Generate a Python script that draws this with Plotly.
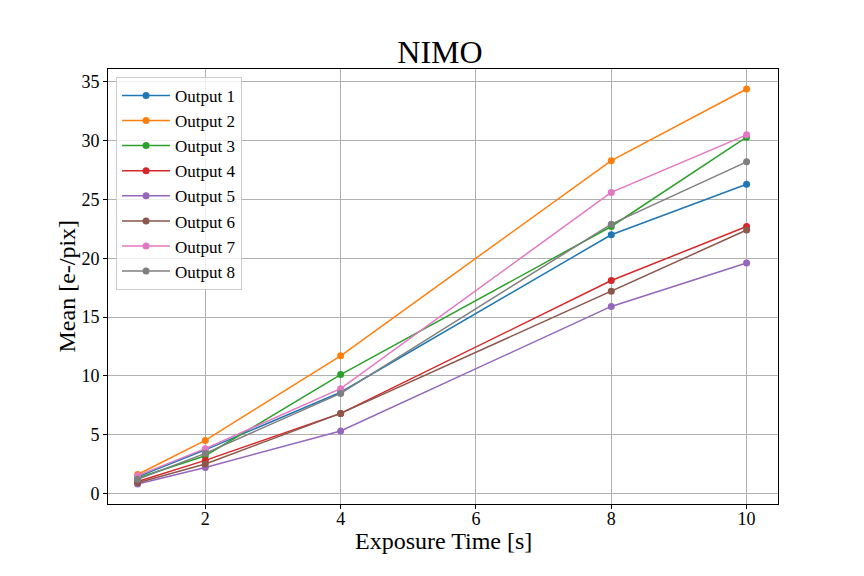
import plotly.graph_objects as go

# Datos
exposure = [1, 2, 4, 8, 10]
out1 = [1.4, 3.7, 8.6, 22.0, 26.3]
out2 = [1.6, 4.5, 11.7, 28.3, 34.4]
out3 = [1.3, 3.2, 10.1, 22.7, 30.3]
out4 = [1.0, 2.8, 6.8, 18.1, 22.7]
out5 = [0.8, 2.2, 5.3, 15.9, 19.6]
out6 = [0.9, 2.5, 6.8, 17.2, 22.4]
out7 = [1.5, 3.8, 8.9, 25.6, 30.5]
out8 = [1.2, 3.4, 8.5, 22.9, 28.2]

series = [out1, out2, out3, out4, out5, out6, out7, out8]
names = ["Output %d" % (i + 1) for i in range(8)]
colors = ["#1f77b4", "#ff7f0e", "#2ca02c", "#d62728",
          "#9467bd", "#8c564b", "#e377c2", "#7f7f7f"]

fig = go.Figure()
for name, vals, col in zip(names, series, colors):
    fig.add_trace(go.Scatter(
        x=exposure, y=vals, name=name, mode="lines+markers",
        line=dict(color=col, width=1.5),
        marker=dict(color=col, size=7)
    ))

font = "Liberation Serif, Times New Roman, serif"
axis_common = dict(
    showgrid=True, gridcolor="#b0b0b0", gridwidth=1,
    showline=True, linecolor="black", linewidth=1, mirror=True,
    ticks="outside", ticklen=4, tickcolor="black",
    tickfont=dict(family=font, size=18, color="black"),
    zeroline=False
)

# la página tiene 8 px de margen en el body: se compensa aquí
fig.update_layout(
    title=dict(text="NIMO", x=0.5, xanchor="center", y=0.924, yanchor="middle",
               font=dict(family=font, size=32, color="black")),
    width=864, height=576,
    paper_bgcolor="white", plot_bgcolor="white",
    margin=dict(l=100, r=94, t=61, b=80),
    xaxis=dict(range=[0.562, 10.464], tickvals=[2, 4, 6, 8, 10],
               ticklabelstandoff=-6, **axis_common),
    yaxis=dict(range=[-0.91, 36.1], tickvals=[0, 5, 10, 15, 20, 25, 30, 35],
               **axis_common),
    legend=dict(x=0.012, y=0.982, xanchor="left", yanchor="top",
                bgcolor="rgba(255,255,255,0.8)", bordercolor="#cccccc", borderwidth=1,
                font=dict(family=font, size=17, color="black"),
                tracegroupgap=0, itemwidth=48),
    showlegend=True
)

# títulos de ejes como anotaciones para fijar su posición
fig.add_annotation(text="Exposure Time [s]", xref="paper", yref="paper",
                   x=0.5, y=0, yshift=-37, xanchor="center", yanchor="middle",
                   showarrow=False, font=dict(family=font, size=24, color="black"))
fig.add_annotation(text="Mean [e-/pix]", xref="paper", yref="paper",
                   x=0, y=0.5, xshift=-42, xanchor="center", yanchor="middle",
                   textangle=-90, showarrow=False,
                   font=dict(family=font, size=24, color="black"))

fig.write_html("out.html")
